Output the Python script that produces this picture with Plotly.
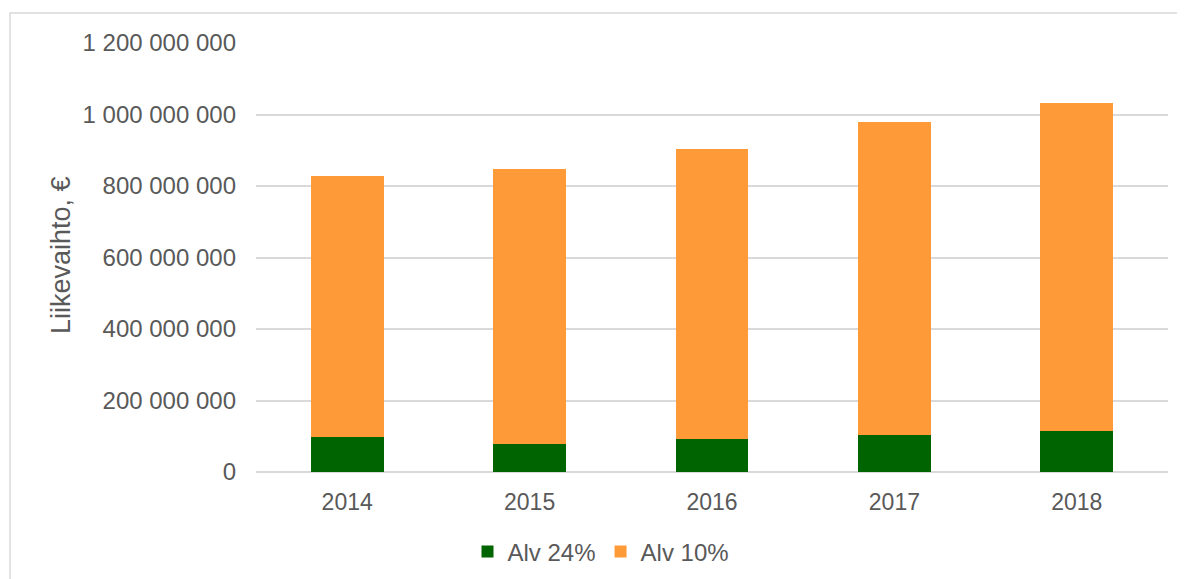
import plotly.graph_objects as go

years = ["2014", "2015", "2016", "2017", "2018"]
alv24 = [97_000_000, 78_000_000, 91_500_000, 103_000_000, 114_000_000]
alv10 = [731_000_000, 769_000_000, 811_500_000, 875_000_000, 919_000_000]
series_names = ["Alv 24%", "Alv 10%"]
y_title = "Liikevaihto, €"

OFF = 8  # default body margin of the page
W, H = 1185 - OFF, 579 - OFF
# plot area in reference pixel coords: x 256..1168, y 43..472
L = 256 - OFF
T = 43 - OFF
R = 1185 - 1168
B = 579 - 472
pw = W - L - R
ph = H - T - B

def px_x(x):
    return (x - OFF - L) / pw

def px_y(y):
    return (T + ph - (y - OFF)) / ph

font_fam = "Liberation Sans, Arial, sans-serif"
txt = "#595959"

fig = go.Figure()
fig.add_trace(go.Bar(x=years, y=alv24, name=series_names[0], marker=dict(color="#006400", line=dict(width=0))))
fig.add_trace(go.Bar(x=years, y=alv10, name=series_names[1], marker=dict(color="#FF9A38", line=dict(width=0))))

fig.update_layout(
    width=W, height=H,
    barmode="stack", bargap=0.6,
    separators=", ",
    margin=dict(l=L, r=R, t=T, b=B, autoexpand=False),
    plot_bgcolor="white", paper_bgcolor="white",
    font=dict(family=font_fam, size=24, color=txt),
    legend=dict(orientation="h", x=px_x(601), xanchor="center",
                y=px_y(552), yanchor="middle",
                font=dict(size=24, color=txt), itemwidth=30, traceorder="normal"),
    showlegend=True,
    yaxis=dict(range=[0, 1.2e9], dtick=2e8, tickformat=",d", showgrid=True,
               gridcolor="#D9D9D9", gridwidth=1.5, zeroline=True, zerolinecolor="#D9D9D9",
               zerolinewidth=1.5, showline=False, ticklabelstandoff=19,
               tickfont=dict(size=24, color=txt)),
    xaxis=dict(showgrid=False, showline=False, ticks="", ticklabelstandoff=14,
               tickfont=dict(size=23, color=txt)),
)

fig.add_annotation(text=y_title, xref="paper", yref="paper",
                   x=px_x(61), y=px_y(255), textangle=-90,
                   showarrow=False, font=dict(size=27, color=txt),
                   xanchor="center", yanchor="middle")

fig.add_shape(type="rect", xref="paper", yref="paper",
              x0=px_x(10), x1=px_x(1185 + 20),
              y0=px_y(579 + 20), y1=px_y(13),
              line=dict(color="#D9D9D9", width=1.5), fillcolor="rgba(0,0,0,0)", layer="below")

fig.write_html("out.html")
